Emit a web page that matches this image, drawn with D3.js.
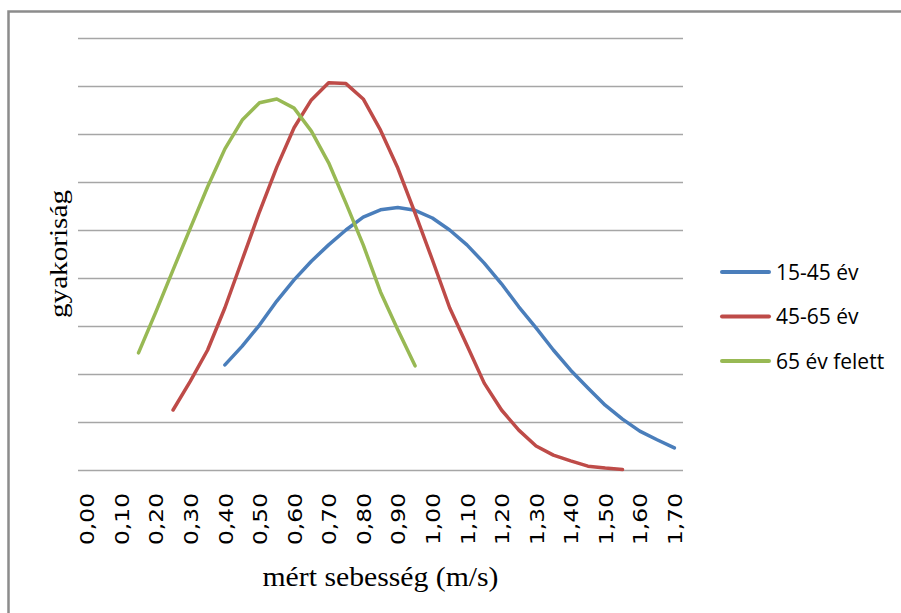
<!DOCTYPE html>
<html>
<head>
<meta charset="utf-8">
<script src="https://cdn.jsdelivr.net/npm/d3@7"></script>
<style>
  html, body { margin: 0; padding: 0; background: #fff; }
  svg { display: block; }
  .grid line { stroke: #a6a6a6; stroke-width: 1.5; }
  .axis text { font-family: "DejaVu Sans", sans-serif; font-size: 20px; fill: #000; }
  .legend text { font-family: "Open Sans", sans-serif; font-size: 21px; fill: #000; }
  .title { font-family: "Liberation Serif", serif; fill: #000; }
</style>
</head>
<body>
<div id="chart"></div>
<script>
// x categories every 0,05 m/s; only every second one is labelled
const categories = ["0,00", "0,05", "0,10", "0,15", "0,20", "0,25", "0,30", "0,35", "0,40", "0,45",
  "0,50", "0,55", "0,60", "0,65", "0,70", "0,75", "0,80", "0,85", "0,90", "0,95",
  "1,00", "1,05", "1,10", "1,15", "1,20", "1,25", "1,30", "1,35", "1,40", "1,45",
  "1,50", "1,55", "1,60", "1,65", "1,70"];
const tickLabels = ["0,00", "0,10", "0,20", "0,30", "0,40", "0,50", "0,60", "0,70", "0,80",
  "0,90", "1,00", "1,10", "1,20", "1,30", "1,40", "1,50", "1,60", "1,70"];

const seriesNames = ["15-45 év", "45-65 év", "65 év felett"];
const seriesColors = ["#4a7ebb", "#be4b48", "#98b954"];
const seriesStart = ["0,40", "0,25", "0,15"];

const young = [2.19, 2.58, 3.02, 3.52, 3.96, 4.35, 4.69, 5.0, 5.27, 5.42, 5.47, 5.41, 5.25, 5.0,
  4.69, 4.31, 3.88, 3.4, 2.96, 2.5, 2.08, 1.71, 1.35, 1.06, 0.81, 0.63, 0.46];
const middle = [1.25, 1.85, 2.5, 3.38, 4.38, 5.38, 6.31, 7.13, 7.71, 8.07, 8.05, 7.73, 7.08, 6.29,
  5.35, 4.38, 3.38, 2.6, 1.81, 1.25, 0.83, 0.5, 0.31, 0.19, 0.08, 0.04, 0.01];
const older = [2.44, 3.29, 4.17, 5.04, 5.9, 6.69, 7.29, 7.65, 7.73, 7.54, 7.06, 6.4, 5.56, 4.69,
  3.71, 2.92, 2.17];

const width = 901, height = 613;
const margin = { top: 38, right: 218, bottom: 143, left: 78 };

const svg = d3.select("#chart").append("svg").attr("width", width).attr("height", height);

// outer frame (only top and left edges visible)
svg.append("path")
  .attr("d", `M8.5,${height} V11.5 H${width}`)
  .attr("fill", "none")
  .attr("stroke", "#8c8c8c")
  .attr("stroke-width", 2.5);

const x = d3.scalePoint()
  .domain(categories)
  .range([margin.left, width - margin.right])
  .padding(0.5);
const y = d3.scaleLinear().domain([0, 9]).range([height - margin.bottom, margin.top]);

svg.append("g")
  .attr("class", "grid")
  .attr("transform", `translate(${margin.left},0)`)
  .call(d3.axisLeft(y).ticks(9).tickSize(-(width - margin.left - margin.right)).tickFormat(""))
  .call((g) => g.select(".domain").remove());

const xAxis = svg.append("g")
  .attr("class", "axis")
  .attr("transform", `translate(0,${height - margin.bottom})`)
  .call(d3.axisBottom(x).tickValues(tickLabels).tickSize(0));
xAxis.select(".domain").remove();
xAxis.selectAll("text")
  .attr("transform", "rotate(-90)")
  .attr("x", -23)
  .attr("y", 0)
  .attr("dy", "0.36em")
  .attr("textLength", 52)
  .attr("lengthAdjust", "spacingAndGlyphs")
  .style("text-anchor", "end");

const seriesData = [young, middle, older].map((values, i) => {
  const s = categories.indexOf(seriesStart[i]);
  return values.map((v, j) => ({ cat: categories[s + j], value: v }));
});

const line = d3.line().x((d) => x(d.cat)).y((d) => y(d.value));

svg.append("g")
  .selectAll("path")
  .data(seriesData)
  .join("path")
  .attr("d", line)
  .attr("fill", "none")
  .attr("stroke", (_, i) => seriesColors[i])
  .attr("stroke-width", 3.5)
  .attr("stroke-linejoin", "round")
  .attr("stroke-linecap", "round");

// axis titles
svg.append("text")
  .attr("class", "title")
  .attr("x", (margin.left + width - margin.right) / 2)
  .attr("y", 586)
  .attr("text-anchor", "middle")
  .attr("font-size", 28)
  .attr("textLength", 236)
  .attr("lengthAdjust", "spacingAndGlyphs")
  .text("mért sebesség (m/s)");

svg.append("text")
  .attr("class", "title")
  .attr("transform", `translate(67,${(margin.top + height - margin.bottom) / 2}) rotate(-90)`)
  .attr("text-anchor", "middle")
  .attr("font-size", 25)
  .attr("textLength", 128)
  .attr("lengthAdjust", "spacingAndGlyphs")
  .text("gyakoriság");

// legend
const legend = svg.append("g").attr("class", "legend").attr("transform", "translate(720,272)");
const item = legend.selectAll("g")
  .data(seriesNames)
  .join("g")
  .attr("transform", (_, i) => `translate(0,${i * 44.5})`);
item.append("line")
  .attr("x1", 2).attr("x2", 49)
  .attr("stroke", (_, i) => seriesColors[i])
  .attr("stroke-width", 4)
  .attr("stroke-linecap", "round");
item.append("text")
  .attr("x", 56)
  .attr("dy", "0.36em")
  .text((d) => d);
</script>
</body>
</html>
